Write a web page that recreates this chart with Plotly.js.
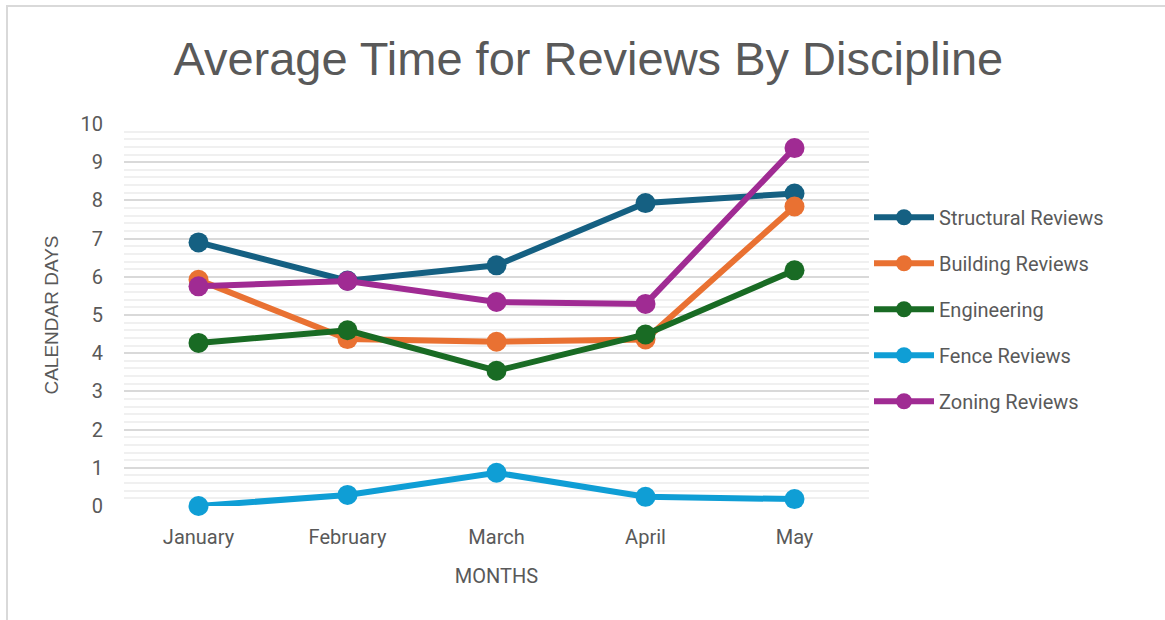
<!DOCTYPE html>
<html>
<head>
<meta charset="utf-8">
<script src="https://cdn.plot.ly/plotly-3.0.1.min.js"></script>
<style>
  html, body { margin: 0; padding: 0; background: #ffffff; }
  #wrap { position: relative; width: 1165px; height: 620px; overflow: hidden; }
  #chart { position: absolute; left: 0; top: 0; width: 1165px; height: 620px; }
  #frame { position: absolute; left: 6px; top: 5px; width: 1200px; height: 700px;
           border-left: 2px solid #d9d9d9; border-top: 2px solid #d9d9d9; pointer-events: none; }
</style>
</head>
<body>
<div id="wrap">
  <div id="chart"></div>
  <div id="frame"></div>
</div>
<script>
const months = ["January", "February", "March", "April", "May"];
const structural = [6.9, 5.9, 6.3, 7.93, 8.18];
const building = [5.92, 4.37, 4.3, 4.36, 7.84];
const engineering = [4.27, 4.6, 3.54, 4.49, 6.17];
const fence = [0.0, 0.29, 0.87, 0.24, 0.18];
const zoning = [5.75, 5.89, 5.34, 5.29, 9.37];

const seriesNames = ["Structural Reviews", "Building Reviews", "Engineering", "Fence Reviews", "Zoning Reviews"];
const seriesData = [structural, building, engineering, fence, zoning];
const seriesColors = ["#156082", "#E97132", "#196B24", "#0F9ED5", "#A02B93"];

const traces = seriesData.map((vals, i) => ({
  type: "scatter",
  mode: "lines+markers",
  name: seriesNames[i],
  legendgroup: "g" + i,
  x: months,
  y: vals,
  line: { color: seriesColors[i], width: 6 },
  marker: { color: seriesColors[i], size: 20 },
  cliponaxis: false
}));

const tickFont = { family: "Roboto, 'Noto Sans', sans-serif", size: 20, color: "#595959" };

const layout = {
  width: 1165,
  height: 620,
  paper_bgcolor: "#ffffff",
  plot_bgcolor: "#ffffff",
  margin: { l: 124, r: 296, t: 124, b: 114 },
  title: {
    text: "Average Time for Reviews By Discipline",
    font: { family: "'Liberation Sans', Arial, sans-serif", size: 47, color: "#595959" },
    x: 0.505, xanchor: "center", y: 0.905, yanchor: "middle"
  },
  xaxis: {
    type: "category",
    range: [-0.5, 4.5],
    showgrid: false,
    zeroline: false,
    showline: false,
    ticks: "",
    tickfont: tickFont,
    ticklabelstandoff: 17,
    title: { text: "MONTHS", font: { family: "Roboto, 'Noto Sans', sans-serif", size: 20, color: "#595959" }, standoff: 20 }
  },
  yaxis: {
    range: [0, 10],
    dtick: 1,
    showgrid: true,
    gridcolor: "#d9d9d9",
    gridwidth: 2,
    zeroline: false,
    showline: false,
    ticks: "",
    tickfont: tickFont,
    ticklabelstandoff: 20,
    minor: { dtick: 0.2, showgrid: true, gridcolor: "#f0f0f0", gridwidth: 2 },
    title: { text: "CALENDAR DAYS", font: { family: "'Liberation Sans', Arial, sans-serif", size: 19, color: "#595959" }, standoff: 16 }
  },
  legend: {
    x: 1.0, xanchor: "left",
    y: 0.515, yanchor: "middle",
    font: { family: "Roboto, 'Noto Sans', sans-serif", size: 20, color: "#595959" },
    traceorder: "grouped",
    tracegroupgap: 17,
    itemwidth: 60,
    bgcolor: "rgba(0,0,0,0)"
  },
  showlegend: true
};

Plotly.newPlot("chart", traces, layout, { displayModeBar: false, staticPlot: true });
</script>
</body>
</html>
